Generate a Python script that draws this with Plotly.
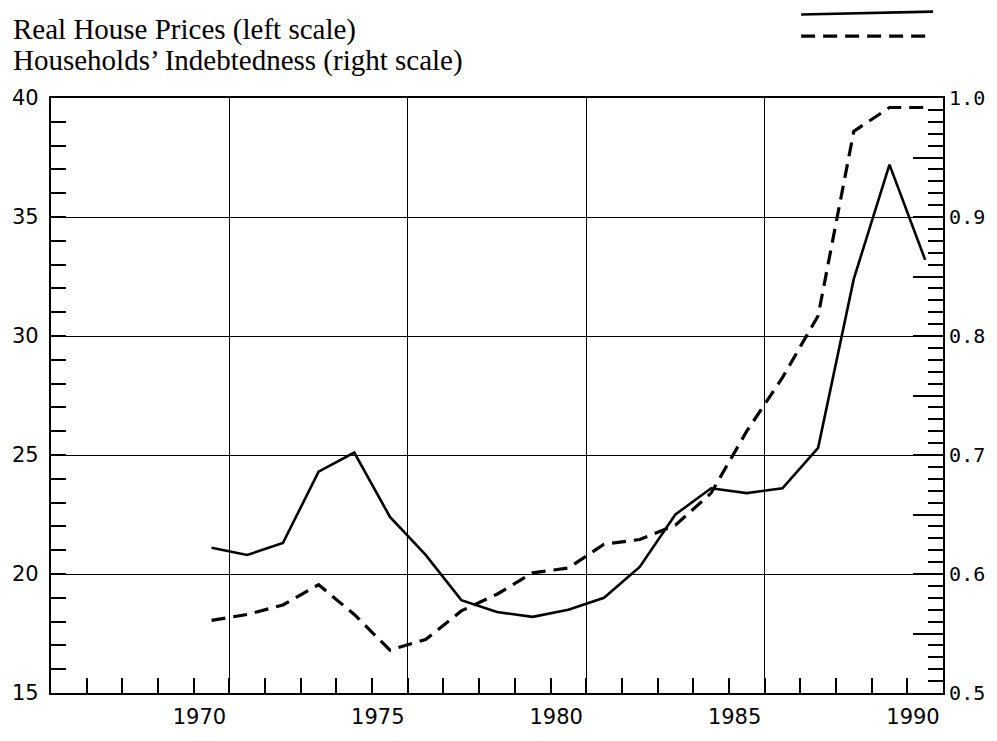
import plotly.graph_objects as go

# ---- data ----
years = list(range(1970, 1991))
house_prices = [21.1, 20.8, 21.3, 24.3, 25.1, 22.4, 20.8, 18.9, 18.4, 18.2, 18.5,
                19.0, 20.3, 22.5, 23.6, 23.4, 23.6, 25.3, 32.4, 37.2, 33.2]
indebtedness = [0.561, 0.566, 0.574, 0.591, 0.566, 0.536, 0.545, 0.569, 0.583, 0.601, 0.605,
                0.625, 0.629, 0.641, 0.668, 0.720, 0.765, 0.817, 0.972, 0.992, 0.992]

x_tick_labels = ["1970", "1975", "1980", "1985", "1990"]
x_tick_vals = [1970.5, 1975.5, 1980.5, 1985.5, 1990.5]   # grid lines sit at year ends
left_tick_vals = [15, 20, 25, 30, 35, 40]
left_tick_text = ["15", "20", "25", "30", "35", "40"]
right_tick_vals = [0.5, 0.55, 0.6, 0.65, 0.7, 0.75, 0.8, 0.85, 0.9, 0.95, 1.0]
right_tick_text = ["0.5", "", "0.6", "", "0.7", "", "0.8", "", "0.9", "", "1.0"]

series_name_1 = "Real House Prices (left scale)"
series_name_2 = "Households’ Indebtedness (right scale)"

W, H = 997, 741
L, R, T, B = 46, 52, 98, 37
pw, ph = W - L - R, H - T - B

def px_x(p):
    return (p - L) / pw

def px_y(p):
    return (H - B - p) / ph

fig = go.Figure()
fig.add_trace(go.Scatter(x=years, y=house_prices, mode="lines", name=series_name_1,
                         line=dict(color="black", width=2.6), yaxis="y"))
fig.add_trace(go.Scatter(x=years, y=indebtedness, mode="lines", name=series_name_2,
                         line=dict(color="black", width=3.2, dash="14px,8px"), yaxis="y2"))

tick_font = dict(family="DejaVu Sans", size=21, color="black")

fig.update_layout(
    width=W, height=H,
    margin=dict(l=L, r=R, t=T, b=B, pad=0),
    paper_bgcolor="white", plot_bgcolor="white",
    showlegend=False,
    xaxis=dict(
        range=[1965.5, 1990.5], tickvals=x_tick_vals, ticktext=x_tick_labels,
        ticks="inside", ticklen=15, tickwidth=1.6, tickcolor="black",
        ticklabelshift=-30, ticklabelstandoff=4,
        showgrid=True, gridcolor="black", gridwidth=1.4,
        showline=True, linecolor="black", linewidth=2.2, mirror=True,
        zeroline=False, tickfont=tick_font,
        minor=dict(dtick=1, tick0=0.5, ticks="inside", ticklen=15,
                   tickwidth=1.6, tickcolor="black", showgrid=False),
    ),
    yaxis=dict(
        range=[15, 40], tickvals=left_tick_vals, ticktext=left_tick_text,
        ticks="inside", ticklen=15, tickwidth=1.6, tickcolor="black",
        showgrid=True, gridcolor="black", gridwidth=1.4,
        showline=True, linecolor="black", linewidth=2.2,
        zeroline=False, tickfont=tick_font, ticklabelstandoff=6,
        minor=dict(dtick=1, tick0=15, ticks="inside", ticklen=15,
                   tickwidth=1.6, tickcolor="black", showgrid=False),
    ),
    yaxis2=dict(
        range=[0.5, 1.0], overlaying="y", side="right",
        tickvals=right_tick_vals, ticktext=right_tick_text,
        ticks="inside", ticklen=30, tickwidth=1.6, tickcolor="black",
        showgrid=False, showline=True, linecolor="black", linewidth=2.2,
        zeroline=False, ticklabelstandoff=0,
        tickfont=dict(family="DejaVu Sans Mono", size=20, color="black"),
        minor=dict(dtick=0.01, tick0=0.5, ticks="inside", ticklen=15,
                   tickwidth=1.6, tickcolor="black", showgrid=False),
    ),
)

title_font = dict(family="Liberation Serif", size=29, color="black")
fig.add_annotation(text=series_name_1, xref="paper", yref="paper",
                   x=px_x(6), y=px_y(28), xanchor="left", yanchor="middle",
                   showarrow=False, font=title_font)
fig.add_annotation(text=series_name_2, xref="paper", yref="paper",
                   x=px_x(6), y=px_y(60), xanchor="left", yanchor="middle",
                   showarrow=False, font=title_font)

# legend keys (top right)
fig.add_shape(type="line", xref="paper", yref="paper",
              x0=px_x(802), x1=px_x(935), y0=px_y(13), y1=px_y(10),
              line=dict(color="black", width=2.6))
fig.add_shape(type="line", xref="paper", yref="paper",
              x0=px_x(802), x1=px_x(935), y0=px_y(35), y1=px_y(35),
              line=dict(color="black", width=3.2, dash="14px,8px"))

fig.write_html("out.html", config={"displayModeBar": False},
               post_script="document.body.style.margin='0';")
